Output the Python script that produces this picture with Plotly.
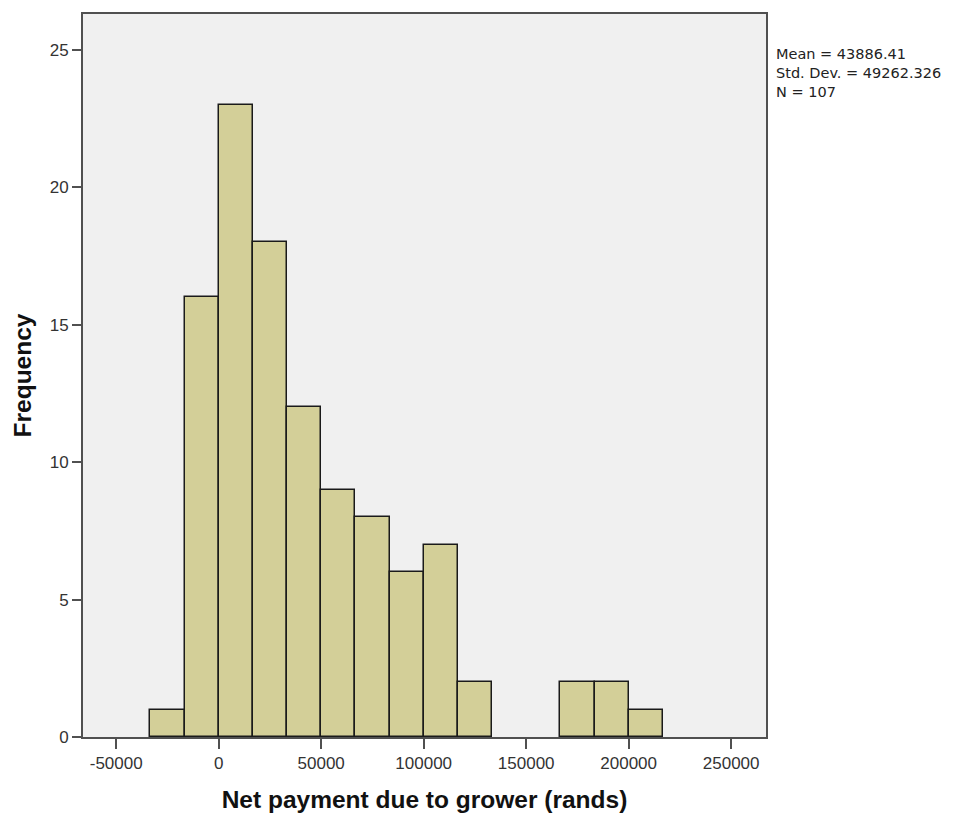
import plotly.graph_objects as go

bin_starts = [-33333.33, -16666.67, 0, 16666.67, 33333.33, 50000, 66666.67, 83333.33,
              100000, 116666.67, 133333.33, 150000, 166666.67, 183333.33, 200000]
counts = [1, 16, 23, 18, 12, 9, 8, 6, 7, 2, 0, 0, 2, 2, 1]
bin_width = 16666.67
x_ticks = [-50000, 0, 50000, 100000, 150000, 200000, 250000]
y_ticks = [0, 5, 10, 15, 20, 25]
stats_text = "Mean = 43886.41<br>Std. Dev. = 49262.326<br>N = 107"

centers = [s + bin_width / 2 for s in bin_starts]
y_plot = [c if c > 0 else None for c in counts]

fig = go.Figure()
fig.add_trace(go.Bar(
    x=centers, y=y_plot, width=[bin_width] * len(counts),
    marker=dict(color="#D3CF98", line=dict(color="#1a1a1a", width=1.5)),
    showlegend=False,
))

axis_common = dict(
    showgrid=False, zeroline=False, showline=True, linecolor="#505050", linewidth=2,
    mirror=True, ticks="outside", tickwidth=2, tickcolor="#505050",
    tickfont=dict(family="Liberation Sans, Arial", size=17, color="#333"),
)

fig.update_layout(
    width=951, height=810,
    margin=dict(l=75, r=193, t=4, b=81),
    paper_bgcolor="white", plot_bgcolor="#F0F0F0",
    bargap=0,
    font=dict(family="Liberation Sans, Arial", size=16, color="#222"),
    xaxis=dict(
        range=[-66200, 267000], tickvals=x_ticks, ticktext=[str(v) for v in x_ticks],
        ticklen=10,
        title=dict(text="<b>Net payment due to grower (rands)</b>",
                   font=dict(family="Liberation Sans, Arial", size=24.5, color="#111"), standoff=18),
        **axis_common,
    ),
    yaxis=dict(
        range=[0, 26.3], tickvals=y_ticks, ticklen=9,
        title=dict(text="<b>Frequency</b>",
                   font=dict(family="Liberation Sans, Arial", size=24.5, color="#111"), standoff=11),
        **axis_common,
    ),
    annotations=[dict(
        text=stats_text, xref="paper", yref="paper", x=1.0, y=0.958,
        xanchor="left", yanchor="top", xshift=8, showarrow=False, align="left",
        font=dict(family="DejaVu Sans", size=14.5, color="#222"),
    )],
)

fig.write_html("out.html")
